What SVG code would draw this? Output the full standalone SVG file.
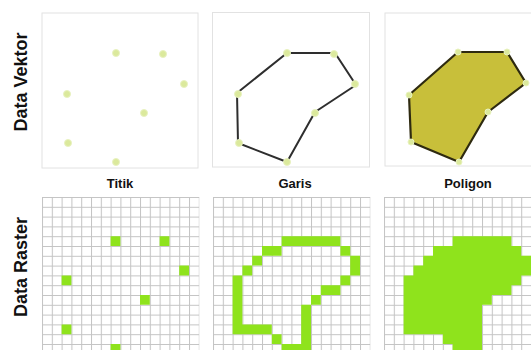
<svg xmlns="http://www.w3.org/2000/svg" width="531" height="350" viewBox="0 0 531 350">
<style>
.frame{fill:#fff;stroke:#e2e2e2;stroke-width:1}
.pt{fill:#dbe99c;stroke:#e8f2c0;stroke-width:1}
.line{fill:none;stroke:#2e2e2e;stroke-width:2;stroke-linejoin:round}
.poly{fill:#c8bf3a;stroke:#2e2a10;stroke-width:2.2;stroke-linejoin:round}
.side{font-family:"Liberation Sans",Arial,sans-serif;font-weight:bold;font-size:18px;fill:#111}
.lbl{font-family:"Liberation Sans",Arial,sans-serif;font-weight:bold;font-size:13px;fill:#111;text-anchor:middle}
.cell{fill:#8fe31c}
</style>
<defs>
<pattern id="grid" width="9.8" height="9.8" patternUnits="userSpaceOnUse">
<rect width="9.8" height="9.8" fill="#fff"/>
<path d="M0 0.5H9.8M0.5 0V9.8" stroke="#c4c4c4" stroke-width="1" fill="none"/>
</pattern>
<g id="pts">
<circle cx="116" cy="53" r="3.5"/>
<circle cx="163" cy="54" r="3.5"/>
<circle cx="184" cy="84" r="3.5"/>
<circle cx="67" cy="94" r="3.5"/>
<circle cx="144" cy="113" r="3.5"/>
<circle cx="68" cy="143" r="3.5"/>
<circle cx="116" cy="162" r="3.5"/>
</g>
</defs>
<rect width="531" height="350" fill="#fff"/>

<g id="label-vektor"><text class="side" transform="translate(27,82) rotate(-90)" text-anchor="middle">Data Vektor</text></g>
<g id="label-raster"><text class="side" transform="translate(27,267) rotate(-90)" text-anchor="middle">Data Raster</text></g>

<g id="vektor-titik">
<rect class="frame" x="42" y="13" width="156" height="155"/>
<use href="#pts" class="pt"/>
</g>

<g id="vektor-garis">
<rect class="frame" x="212.5" y="12.5" width="157" height="154.5"/>
<polygon class="line" points="287,53 335,53 356,85 315,112 287,162 238,143 237,93"/>
<use href="#pts" class="pt" transform="translate(171,0)"/>
</g>

<g id="vektor-poligon">
<rect class="frame" x="385" y="13" width="160" height="153"/>
<polygon class="poly" points="458,52 507,52 526,83 488,112 459,162 411,142 409,95"/>
<g class="pt">
<circle cx="458" cy="52" r="3"/><circle cx="507" cy="52" r="3"/><circle cx="526" cy="83" r="3"/>
<circle cx="488" cy="112" r="3"/><circle cx="459" cy="162" r="3"/><circle cx="411" cy="142" r="3"/><circle cx="409" cy="95" r="3"/>
</g>
</g>

<g id="captions">
<text class="lbl" x="120" y="188">Titik</text>
<text class="lbl" x="295" y="188">Garis</text>
<text class="lbl" x="468" y="188">Poligon</text>
</g>

<g id="raster-titik" transform="translate(42,197)">
<rect width="157.3" height="157.3" fill="url(#grid)"/>
<path class="cell" transform="scale(9.8)" d="M7 4h1v1h-1zM12 4h1v1h-1zM14 7h1v1h-1zM2 8h1v1h-1zM10 10h1v1h-1zM2 13h1v1h-1zM7 15h1v1h-1z"/>
</g>

<g id="raster-garis" transform="translate(213,197)">
<rect width="157.3" height="157.3" fill="url(#grid)"/>
<path class="cell" transform="scale(9.8)" d="M7 4h6v1h-6zM5 5h2v1h-2zM13 5h1v1h-1zM4 6h1v1h-1zM14 6h1v2h-1zM3 7h1v1h-1zM2 8h1v6h-1zM13 8h1v1h-1zM11 9h2v1h-2zM10 10h1v1h-1zM9 11h1v5h-1zM3 13h3v1h-3zM6 14h1v1h-1zM7 15h2v1h-2z"/>
</g>

<g id="raster-poligon" transform="translate(384,197)">
<rect width="157.3" height="157.3" fill="url(#grid)"/>
<path class="cell" transform="scale(9.8)" d="M7 4h6v1h-6zM5 5h9v1h-9zM4 6h11v1h-11zM3 7h12v1h-12zM2 8h12v1h-12zM2 9h11v1h-11zM2 10h9v1h-9zM2 11h8v3h-8zM6 14h4v1h-4zM7 15h3v1h-3z"/>
</g>
</svg>
